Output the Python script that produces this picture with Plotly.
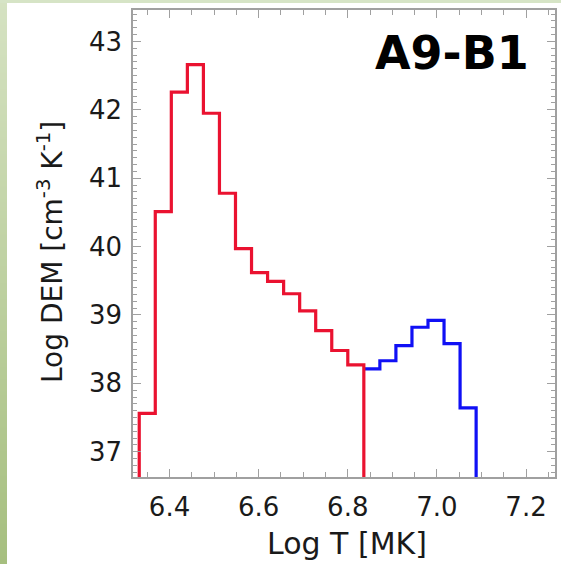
import plotly.graph_objects as go

# ---- data ----
red_edges = [6.296, 6.332, 6.368, 6.404, 6.440, 6.476, 6.512, 6.548, 6.584,
             6.620, 6.656, 6.692, 6.728, 6.764, 6.800, 6.836, 6.872]
red_dem = [35.0, 37.56, 40.51, 42.26, 42.66, 41.95, 40.78, 39.97, 39.62,
           39.49, 39.31, 39.06, 38.77, 38.48, 38.27, 35.0]

blue_edges = [6.836, 6.872, 6.908, 6.944, 6.980, 7.016, 7.052, 7.088, 7.124]
blue_dem = [38.21, 38.33, 38.55, 38.82, 38.92, 38.58, 37.64, 35.0]

x_ticks = [6.4, 6.6, 6.8, 7.0, 7.2]
y_ticks = [37, 38, 39, 40, 41, 42, 43]
label = "A9-B1"

W, H = 561, 564
# plot-area box in pixels
PL, PR, PT, PB = 133, 555, 10, 477


def fx(xp):
    return xp / W


def fy(yp):
    return 1 - yp / H


fig = go.Figure()

# slide background: green gradient strip on the left edge
fig.add_trace(go.Heatmap(z=[[0, 0], [1, 1]], x=[0, 1], y=[0, 1], xaxis="x2", yaxis="y2",
                         zsmooth="best",
                         colorscale=[[0, "#a6bf7f"], [1, "#d5e2c2"]], showscale=False,
                         hoverinfo="skip"))

fig.add_trace(go.Scatter(x=blue_edges, y=blue_dem + [blue_dem[-1]], mode="lines",
                         line=dict(shape="hv", color="#1010f5", width=3.2),
                         showlegend=False, hoverinfo="skip"))
fig.add_trace(go.Scatter(x=red_edges, y=red_dem + [red_dem[-1]], mode="lines",
                         line=dict(shape="hv", color="#ea1230", width=3.2),
                         showlegend=False, hoverinfo="skip"))

axis_common = dict(
    showgrid=False, zeroline=False, showline=True, linecolor="#a0a0a0", linewidth=1.5,
    mirror="allticks", ticks="inside", ticklen=8, tickwidth=1.2, tickcolor="#a0a0a0",
    tickfont=dict(family="DejaVu Sans", size=26, color="#1a1a1a"),
)

fig.update_layout(
    xaxis=dict(domain=[fx(PL), fx(PR)], range=[6.318, 7.265], tickvals=x_ticks,
               ticktext=[f"{v:.1f}" for v in x_ticks],
               minor=dict(ticks="inside", dtick=0.05, tick0=6.4, ticklen=5, tickcolor="#a0a0a0", tickwidth=1),
               ticklabelstandoff=6, **axis_common),
    yaxis=dict(domain=[fy(PB), fy(PT)], range=[36.63, 43.46], tickvals=y_ticks,
               ticktext=[str(v) for v in y_ticks],
               minor=dict(ticks="inside", dtick=0.1, tick0=37, ticklen=4, tickcolor="#a0a0a0", tickwidth=1),
               ticklabelstandoff=4, **axis_common),
    xaxis2=dict(domain=[0, fx(7)], visible=False, fixedrange=True, range=[0, 1], anchor="y2"),
    yaxis2=dict(domain=[0, 1], visible=False, fixedrange=True, range=[0, 1], anchor="x2"),
)

shapes = [dict(type="rect", xref="paper", yref="paper", layer="above",
               x0=0, x1=1, y0=fy(3), y1=1, fillcolor="#d6e4c6", line=dict(width=0))]

annotations = [
    dict(text="Log T [MK]", xref="paper", yref="paper", x=fx(347), y=fy(543),
         xanchor="center", yanchor="middle", showarrow=False,
         font=dict(family="DejaVu Sans", size=30, color="#1a1a1a")),
    dict(text="Log DEM [cm<sup>-3</sup> K<sup>-1</sup>]", xref="paper", yref="paper",
         x=fx(50), y=fy(252), textangle=-90, xanchor="center", yanchor="middle",
         showarrow=False, font=dict(family="DejaVu Sans", size=28, color="#1a1a1a")),
    dict(text="<b>" + label + "</b>", xref="paper", yref="paper", x=fx(452), y=fy(53),
         xanchor="center", yanchor="middle", showarrow=False,
         font=dict(family="Comic Sans MS, DejaVu Sans", size=46, color="#000000")),
]

fig.update_layout(
    width=W, height=H, margin=dict(l=0, r=0, t=0, b=0, pad=0),
    paper_bgcolor="white", plot_bgcolor="white",
    shapes=shapes, annotations=annotations, showlegend=False,
)

fig.write_html("out.html")
